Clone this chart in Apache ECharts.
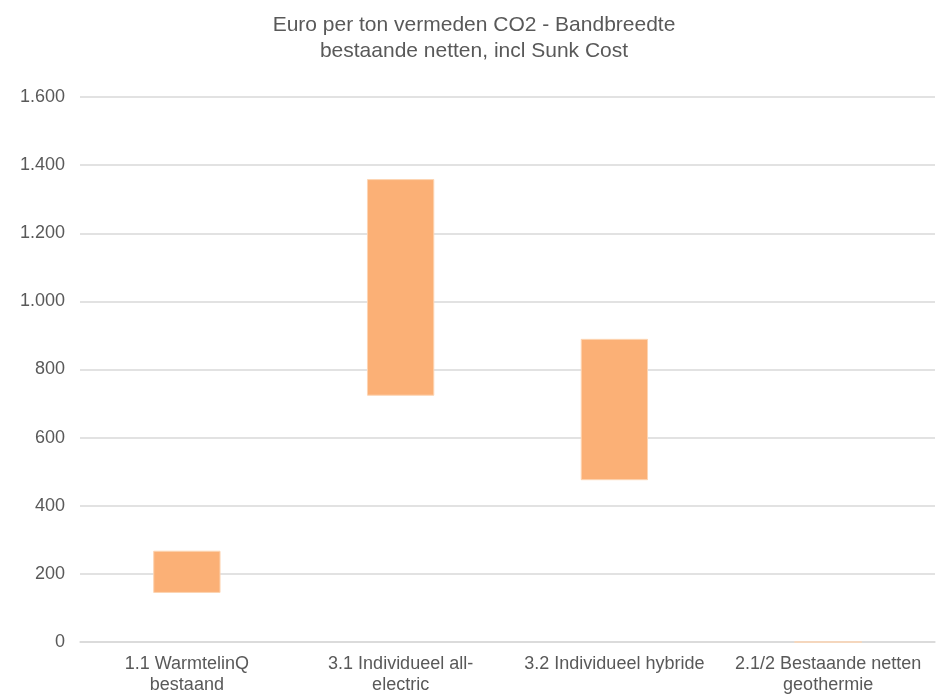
<!DOCTYPE html>
<html>
<head>
<meta charset="utf-8">
<script src="https://cdn.jsdelivr.net/npm/echarts@6/dist/echarts.min.js"></script>
<style>
html,body{margin:0;padding:0;background:#fff;}
#chart{width:948px;height:696px;}
</style>
</head>
<body>
<div id="chart"></div>
<script>
// categories en band (laag / hoog) in euro per ton
var categories = ['1.1 WarmtelinQ\nbestaand', '3.1 Individueel all-\nelectric', '3.2 Individueel hybride', '2.1/2 Bestaande netten\ngeothermie'];
var lowValues = [144, 723, 475, 0];
var highValues = [268, 1359, 890, 0];
var yTicks = [0, 200, 400, 600, 800, 1000, 1200, 1400, 1600];

var bandValues = [];
for (var i = 0; i < lowValues.length; i++) {
	bandValues.push(highValues[i] - lowValues[i]);
}

function fmtNL(v){
	return String(v).replace(/\B(?=(\d{3})+(?!\d))/g, '.');
}

var chart = echarts.init(document.getElementById('chart'));
chart.setOption({
	animation: false,
	textStyle: {fontFamily: 'Liberation Sans, Arial, sans-serif', color: '#595959'},
	title: {
		text: 'Euro per ton vermeden CO2 - Bandbreedte\nbestaande netten, incl Sunk Cost',
		left: 'center',
		top: 7,
		textStyle: {fontSize: 21, fontWeight: 'normal', color: '#595959', lineHeight: 26, fontFamily: 'Liberation Sans, Arial, sans-serif'}
	},
	grid: {left: 80, right: 13, top: 97, bottom: 54},
	xAxis: {
		type: 'category',
		data: categories,
		axisTick: {show: false},
		axisLine: {lineStyle: {color: '#d9d9d9', width: 1.5}},
		axisLabel: {color: '#595959', fontSize: 18, lineHeight: 21, margin: 12, interval: 0}
	},
	yAxis: {
		type: 'value',
		min: yTicks[0],
		max: yTicks[yTicks.length - 1],
		interval: 200,
		axisLine: {show: false},
		axisTick: {show: false},
		splitLine: {lineStyle: {color: '#d9d9d9', width: 1.5}},
		axisLabel: {color: '#595959', fontSize: 18, margin: 15, formatter: fmtNL}
	},
	series: [
		{
			type: 'bar',
			stack: 'band',
			data: lowValues,
			barWidth: '31.5%',
			itemStyle: {color: 'transparent'},
			silent: true
		},
		{
			type: 'bar',
			stack: 'band',
			data: bandValues,
			itemStyle: {color: '#fbb076', borderColor: '#fdd5b3', borderWidth: 1}
		}
	]
});
</script>
</body>
</html>
